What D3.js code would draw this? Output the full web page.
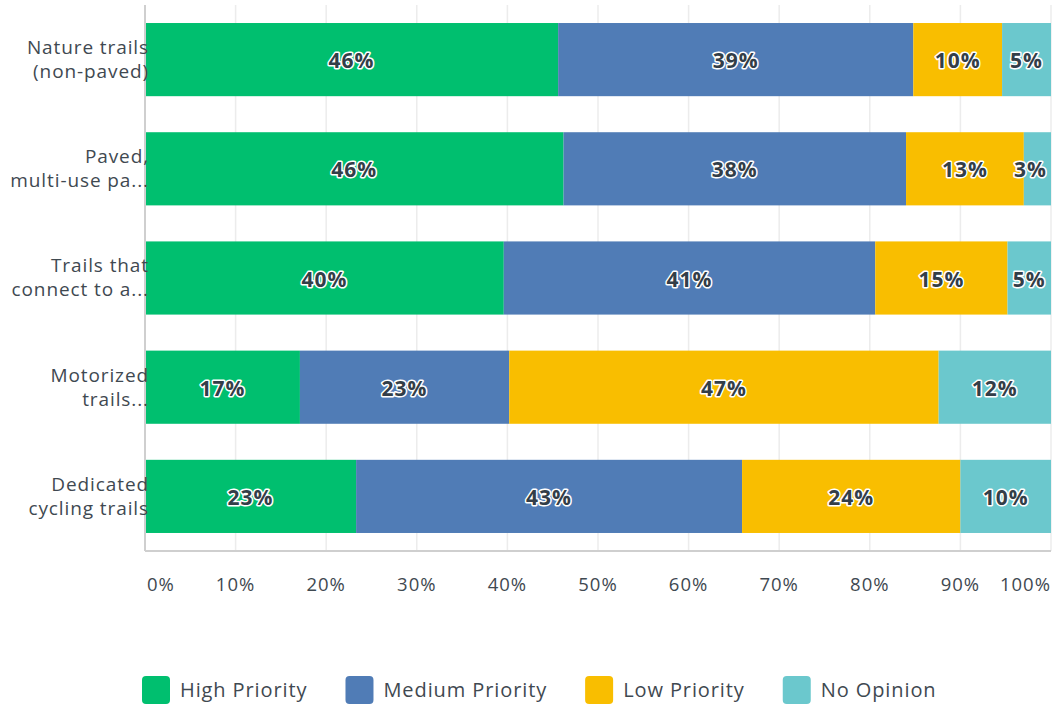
<!DOCTYPE html>
<html lang="en">
<head>
  <meta charset="UTF-8">
  <title>Trail priorities</title>
  <style>
    body {
      margin: 0;
      background: #fff;
      font-family: "Open Sans", "Noto Sans", sans-serif;
      overflow: hidden;
    }
    .cat-label { fill: #3f4951; font-size: 19px; letter-spacing: 0.9px; }
    .tick-label { fill: #3f4951; font-size: 18.5px; letter-spacing: 1px; }
    .val-label {
      fill: #333e48;
      font-size: 21px;
      font-weight: 700;
      letter-spacing: 1px;
      stroke: #fff;
      stroke-width: 3px;
      paint-order: stroke;
      stroke-linejoin: round;
    }
    .legend-label { fill: #3f4951; font-size: 20px; letter-spacing: 0.9px; }
  </style>
  <script src="https://d3js.org/d3.v7.min.js"></script>
</head>
<body>
  <svg width="1055" height="707"></svg>
  <script>
    // categories (top to bottom), each label split on two lines
    const categories = [
      ["Nature trails", "(non-paved)"],
      ["Paved,", "multi-use pa..."],
      ["Trails that", "connect to a..."],
      ["Motorized", "trails..."],
      ["Dedicated", "cycling trails"]
    ];
    const seriesNames = ["High Priority", "Medium Priority", "Low Priority", "No Opinion"];
    const colors = ["#00bf6f", "#507cb6", "#f9be00", "#6bc8cd"];

    // percent of responses per category
    const highPriority = [45.6, 46.2, 39.6, 17.1, 23.3];
    const mediumPriority = [39.2, 37.8, 41.0, 23.1, 42.6];
    const lowPriority = [9.8, 13.0, 14.6, 47.4, 24.1];
    const noOpinion = [5.4, 3.0, 4.8, 12.4, 10.0];

    const tickValues = [0, 0.1, 0.2, 0.3, 0.4, 0.5, 0.6, 0.7, 0.8, 0.9, 1];

    const rows = categories.map((c, i) => ({
      key: i,
      "High Priority": highPriority[i],
      "Medium Priority": mediumPriority[i],
      "Low Priority": lowPriority[i],
      "No Opinion": noOpinion[i]
    }));

    const svg = d3.select("svg");
    const margin = { top: 5, right: 4, bottom: 156, left: 145 };
    const width = 1055 - margin.left - margin.right;
    const height = 707 - margin.top - margin.bottom;

    const x = d3.scaleLinear().domain([0, 1]).range([0, width]);
    const y = d3.scaleBand().domain(d3.range(categories.length)).range([0, height]).paddingInner(0.33).paddingOuter(0.165);
    const color = d3.scaleOrdinal().domain(seriesNames).range(colors);

    const stacked = d3.stack().keys(seriesNames).offset(d3.stackOffsetExpand)(rows);

    const g = svg.append("g").attr("transform", `translate(${margin.left},${margin.top})`);

    // gridlines
    g.append("g")
      .selectAll("line")
      .data(tickValues.slice(1))
      .join("line")
      .attr("x1", d => x(d)).attr("x2", d => x(d))
      .attr("y1", 0).attr("y2", height)
      .attr("stroke", "#ececec")
      .attr("stroke-width", 1.5);

    // bars
    const layers = g.append("g")
      .selectAll("g")
      .data(stacked)
      .join("g")
      .attr("fill", d => color(d.key));

    layers.selectAll("rect")
      .data(d => d)
      .join("rect")
      .attr("x", d => x(d[0]))
      .attr("width", d => x(d[1]) - x(d[0]))
      .attr("y", d => y(d.data.key))
      .attr("height", y.bandwidth());

    // value labels, kept inside the plot on the right
    const fmt = d3.format(".0%");
    layers.selectAll("text")
      .data(d => d)
      .join("text")
      .attr("class", "val-label")
      .attr("y", d => y(d.data.key) + y.bandwidth() / 2 + 1)
      .attr("text-anchor", "middle")
      .attr("dy", "0.36em")
      .text(d => fmt(d[1] - d[0]))
      .attr("x", function (d) {
        const w = this.getComputedTextLength();
        return Math.min((x(d[0]) + x(d[1])) / 2, width - w / 2 - 4);
      });

    // axis lines
    g.append("line")
      .attr("x1", 0).attr("x2", 0).attr("y1", 0).attr("y2", height)
      .attr("stroke", "#cfcfcf").attr("stroke-width", 2);
    g.append("line")
      .attr("x1", 0).attr("x2", width).attr("y1", height).attr("y2", height)
      .attr("stroke", "#cfcfcf").attr("stroke-width", 2);

    // category labels
    const cats = g.append("g")
      .selectAll("text")
      .data(categories)
      .join("text")
      .attr("class", "cat-label")
      .attr("text-anchor", "end")
      .attr("x", 4)
      .attr("y", (d, i) => y(i) + y.bandwidth() / 2);
    cats.selectAll("tspan")
      .data(d => d)
      .join("tspan")
      .attr("x", 4)
      .attr("dy", (d, i) => i === 0 ? "-0.3em" : "1.27em")
      .text(d => d);

    // x tick labels
    g.append("g")
      .selectAll("text")
      .data(tickValues)
      .join("text")
      .attr("class", "tick-label")
      .attr("x", d => x(d) + (d === 0 ? 2 : 0))
      .attr("y", height + 40)
      .attr("text-anchor", (d, i) => i === 0 ? "start" : i === tickValues.length - 1 ? "end" : "middle")
      .text(d3.format(".0%"));

    // legend
    const legend = svg.append("g").attr("transform", "translate(142,676)");
    let lx = 0;
    seriesNames.forEach(name => {
      const item = legend.append("g").attr("transform", `translate(${lx},0)`);
      item.append("rect")
        .attr("width", 28).attr("height", 28).attr("rx", 4)
        .attr("fill", color(name));
      const t = item.append("text")
        .attr("class", "legend-label")
        .attr("x", 38)
        .attr("y", 14)
        .attr("dy", "0.36em")
        .text(name);
      lx += 38 + t.node().getComputedTextLength() + 38;
    });
  </script>
</body>
</html>
